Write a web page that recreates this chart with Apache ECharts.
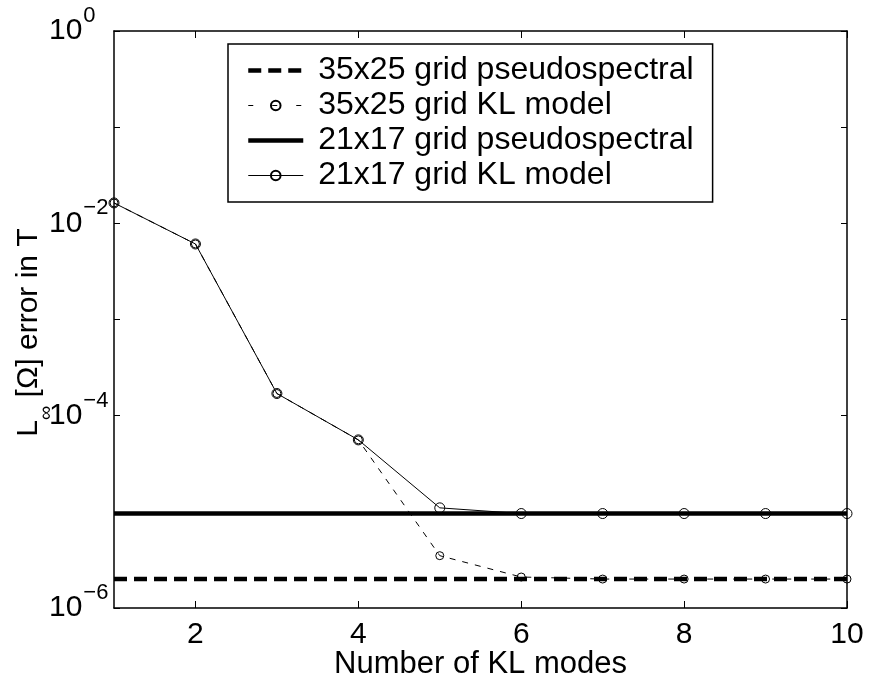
<!DOCTYPE html>
<html>
<head>
<meta charset="utf-8">
<title>KL modes error</title>
<script src="https://cdn.jsdelivr.net/npm/echarts@6/dist/echarts.min.js"></script>
<style>
	html, body { margin: 0; padding: 0; background: #fff; }
	#chart { width: 869px; height: 686px; }
</style>
</head>
<body>
<div id="chart"></div>
<script>
// number of KL modes
var modes = [1, 2, 3, 4, 5, 6, 7, 8, 9, 10];
// L_inf error
var kl35x25 = [1.63e-2, 6.1e-3, 1.7e-4, 5.6e-5, 3.5e-6, 2.1e-6, 2.0e-6, 2.0e-6, 2.0e-6, 2.0e-6];
var kl21x17 = [1.63e-2, 6.1e-3, 1.7e-4, 5.6e-5, 1.1e-5, 9.6e-6, 9.6e-6, 9.6e-6, 9.6e-6, 9.6e-6];
// pseudospectral reference levels
var ps35x25 = 2.0e-6;
var ps21x17 = 9.6e-6;
// axis ticks
var xTicks = [2, 4, 6, 8, 10];
var yTicks = [1e-6, 1e-5, 1e-4, 1e-3, 1e-2, 1e-1, 1];
var seriesNames = ['35x25 grid pseudospectral', '35x25 grid KL model', '21x17 grid pseudospectral', '21x17 grid KL model'];

var FONT = 'Liberation Sans, Arial, Helvetica, sans-serif';

function pairs(xs, ys) {
	var out = [];
	for(var i = 0; i < xs.length; i++) {
		out.push([xs[i], ys[i]]);
	}
	return out;
}

function flat(level) {
	return [[modes[0], level], [modes[modes.length - 1], level]];
}

function yLabel(v) {
	var e = Math.round(Math.log(v) / Math.LN10);
	if(e % 2 != 0) return '';
	var s = e < 0 ? '\u2212' + (-e) : '' + e;
	return '{b|10}{e|' + s + '}';
}

var chart = echarts.init(document.getElementById('chart'));

var axisLine = { show: true, lineStyle: { color: '#000', width: 1.5 } };

var option = {
	animation: false,
	textStyle: { fontFamily: FONT, color: '#000' },
	grid: { left: 114, top: 31, right: 22, bottom: 78, outerBoundsMode: 'none', containLabel: false },
	legend: {
		data: [
			{ name: seriesNames[0], itemStyle: { opacity: 0 }, lineStyle: { width: 4.5, type: [13, 7] } },
			{ name: seriesNames[1], lineStyle: { width: 1, type: [5, 19] } },
			{ name: seriesNames[2], itemStyle: { opacity: 0 }, lineStyle: { width: 4.5 } },
			{ name: seriesNames[3], lineStyle: { width: 1 } }
		],
		orient: 'vertical',
		left: 228,
		top: 44,
		padding: [9, 19, 9, 18],
		itemGap: 0,
		itemWidth: 55,
		itemHeight: 12,
		backgroundColor: '#fff',
		borderColor: '#000',
		borderWidth: 1.5,
		borderRadius: 0,
		selectedMode: false,
		textStyle: { fontSize: 32, color: '#000', fontFamily: FONT, lineHeight: 35, padding: [0, 0, 0, 10] }
	},
	xAxis: [{
		type: 'value',
		min: 1,
		max: 10,
		name: 'Number of KL modes',
		nameLocation: 'middle',
		nameGap: 41,
		nameMoveOverlap: false,
		nameTextStyle: { fontSize: 31, color: '#000', fontFamily: FONT },
		axisLine: axisLine,
		axisTick: { inside: true, length: 7, lineStyle: { color: '#000' }, customValues: xTicks },
		axisLabel: { fontSize: 30, color: '#000', margin: 12, customValues: xTicks },
		splitLine: { show: false }
	}, {
		type: 'value',
		position: 'top',
		min: 1,
		max: 10,
		axisLine: axisLine,
		axisTick: { inside: true, length: 7, lineStyle: { color: '#000' }, customValues: xTicks },
		axisLabel: { show: false },
		splitLine: { show: false }
	}],
	yAxis: [{
		type: 'log',
		logBase: 10,
		min: 1e-6,
		max: 1,
		name: '{t|L}{s|\u221E}{u| [\u03A9] error in T}',
		nameLocation: 'middle',
		nameRotate: 90,
		nameGap: 58,
		nameMoveOverlap: false,
		nameTextStyle: {
			fontSize: 30,
			fontFamily: FONT,
			color: '#000',
			rich: {
				t: { fontSize: 30, padding: [0, 0, 12, 0] },
				s: { fontSize: 20, verticalAlign: 'bottom' },
				u: { fontSize: 30, padding: [0, 26, 12, 0] }
			}
		},
		axisLine: axisLine,
		axisTick: { inside: true, length: 6, lineStyle: { color: '#000' }, customValues: yTicks },
		axisLabel: {
			margin: 65,
			align: 'left',
			fontSize: 30,
			fontFamily: FONT,
			color: '#000',
			customValues: yTicks,
			formatter: yLabel,
			rich: {
				b: { fontSize: 30, verticalAlign: 'middle' },
				e: { fontSize: 22, verticalAlign: 'top', padding: [0, 0, 30, 1] }
			}
		},
		splitLine: { show: false }
	}, {
		type: 'log',
		logBase: 10,
		position: 'right',
		min: 1e-6,
		max: 1,
		axisLine: axisLine,
		axisTick: { inside: true, length: 6, lineStyle: { color: '#000' }, customValues: yTicks },
		axisLabel: { show: false },
		splitLine: { show: false }
	}],
	series: [{
		name: seriesNames[0],
		type: 'line',
		data: flat(ps35x25),
		symbol: 'none',
		color: '#000',
		lineStyle: { color: '#000', width: 4.5, type: [13, 7] },
		z: 2
	}, {
		name: seriesNames[1],
		type: 'line',
		data: pairs(modes, kl35x25),
		symbol: 'circle',
		symbolSize: 8,
		color: '#000',
		itemStyle: { color: 'rgba(0,0,0,0)', borderColor: '#000', borderWidth: 1 },
		lineStyle: { color: '#000', width: 1, type: [6, 7] },
		z: 3
	}, {
		name: seriesNames[2],
		type: 'line',
		data: flat(ps21x17),
		symbol: 'none',
		color: '#000',
		lineStyle: { color: '#000', width: 4.5 },
		z: 4
	}, {
		name: seriesNames[3],
		type: 'line',
		data: pairs(modes, kl21x17),
		symbol: 'circle',
		symbolSize: 10,
		color: '#000',
		itemStyle: { color: 'rgba(0,0,0,0)', borderColor: '#000', borderWidth: 1 },
		lineStyle: { color: '#000', width: 1 },
		z: 5
	}]
};

chart.setOption(option);
</script>
</body>
</html>
